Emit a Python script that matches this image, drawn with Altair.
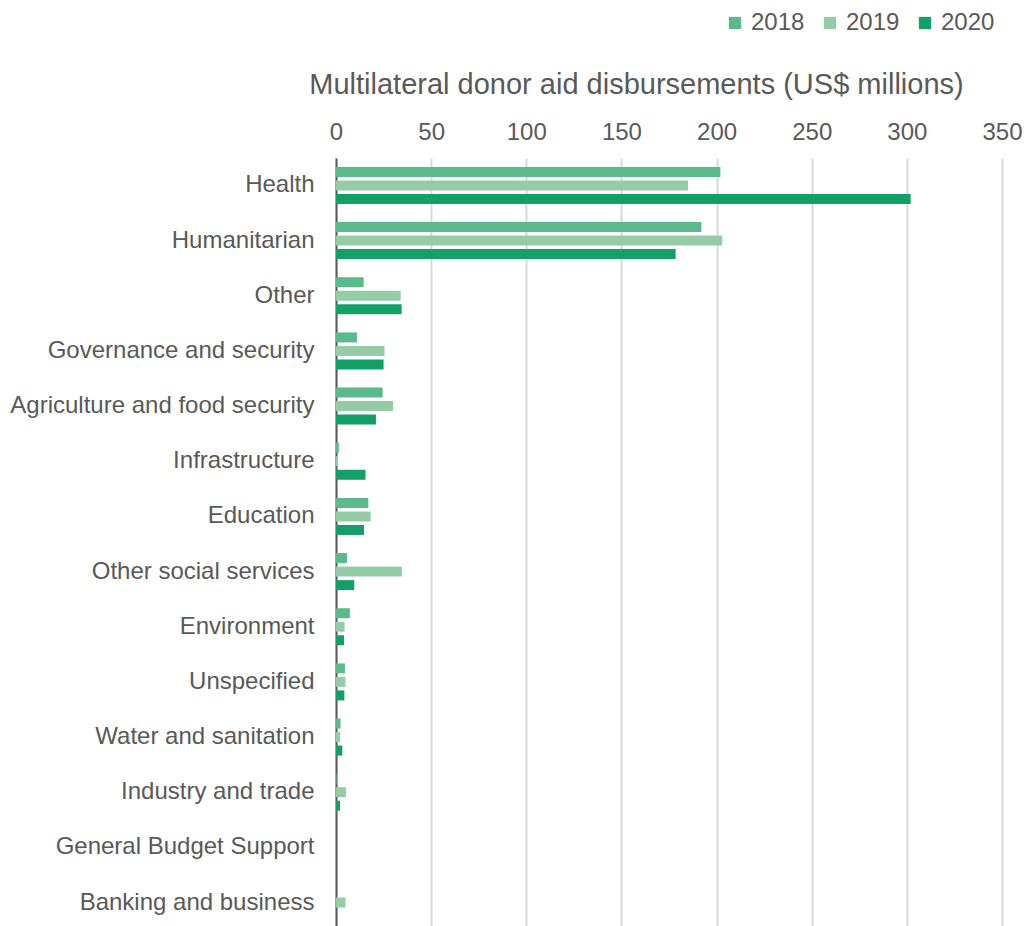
import altair as alt
import pandas as pd

categories = ["Health", "Humanitarian", "Other", "Governance and security",
              "Agriculture and food security", "Infrastructure", "Education",
              "Other social services", "Environment", "Unspecified",
              "Water and sanitation", "Industry and trade",
              "General Budget Support", "Banking and business"]
years = ["2018", "2019", "2020"]
v2018 = [202, 192, 14.5, 11, 24.5, 1.5, 17, 5.8, 7.3, 4.7, 2.4, 0.3, 0, 0]
v2019 = [185, 203, 34, 25.5, 30, 1, 18.2, 34.6, 4.5, 5, 2.2, 5.2, 0, 5]
v2020 = [302, 178.5, 34.5, 25, 21, 15.5, 14.7, 9.6, 4.2, 4.4, 3.3, 2.1, 0, 0]
colors = ["#5BBA8B", "#94CCA8", "#12A068"]

rows = []
for yr, vals in zip(years, [v2018, v2019, v2020]):
    for c, v in zip(categories, vals):
        rows.append({"Sector": c, "Year": yr, "Value": v})
df = pd.DataFrame(rows)

font = "Liberation Sans"
grey = "#595959"

chart = alt.Chart(df).mark_bar(height=10).encode(
    y=alt.Y("Sector:N", sort=categories,
            scale=alt.Scale(paddingInner=0.265, paddingOuter=0.13),
            axis=alt.Axis(title=None, ticks=False, labelFontSize=24,
                          labelColor=grey, labelFont=font, labelPadding=22,
                          domainColor="#595959", domainWidth=2, grid=False,
                          labelLimit=400)),
    yOffset=alt.YOffset("Year:N", sort=years),
    x=alt.X("Value:Q", scale=alt.Scale(domain=[0, 350], nice=False),
            axis=alt.Axis(orient="top", values=list(range(0, 351, 50)),
                          title="Multilateral donor aid disbursements (US$ millions)",
                          titleFontSize=29, titleFontWeight="normal",
                          titleColor=grey, titleFont=font, titleX=300, titleY=-65,
                          titleBaseline="alphabetic",
                          labelFontSize=24, labelColor=grey, labelFont=font,
                          labelBaseline="alphabetic", labelPadding=19,
                          labelFlush=False, ticks=False, domain=False,
                          gridColor="#D9D9D9", gridWidth=2)),
    color=alt.Color("Year:N", scale=alt.Scale(domain=years, range=colors),
                    legend=alt.Legend(title=None, orient="none", direction="horizontal",
                                      legendX=387, legendY=-147, symbolType="square",
                                      symbolSize=150, symbolStrokeWidth=0,
                                      labelFontSize=24, labelColor=grey, labelFont=font,
                                      columnPadding=13, labelOffset=4)),
).properties(
    width=666, height=772,
    autosize=alt.AutoSizeParams(type="none"),
    padding={"left": 336, "top": 158, "right": 22, "bottom": 0},
).configure_view(stroke=None)

chart.save("out.html", embed_options={"renderer": "svg", "actions": False})
